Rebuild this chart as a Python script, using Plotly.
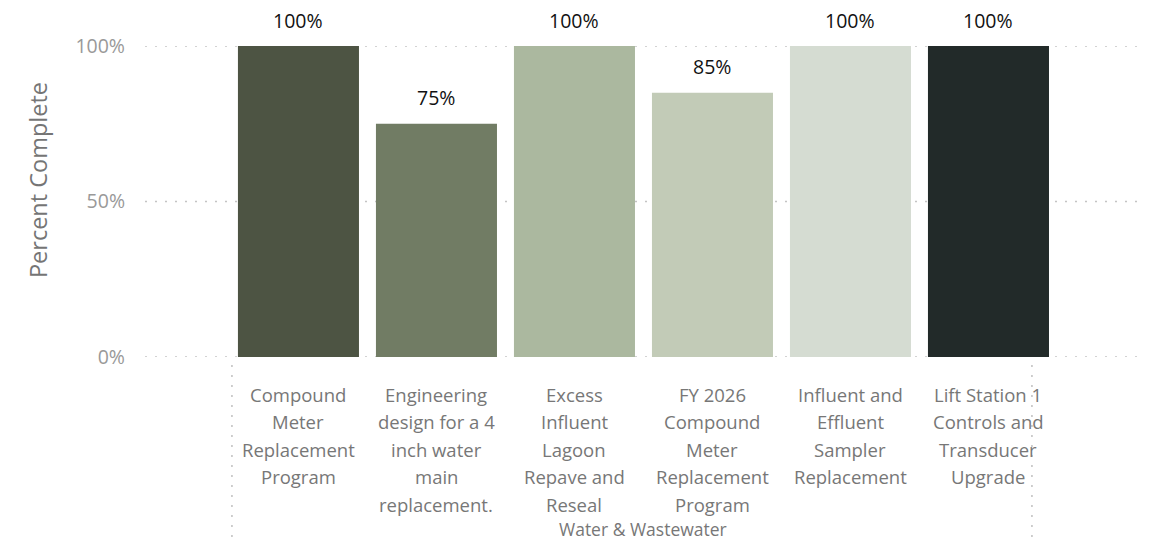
import plotly.graph_objects as go

categories = [
    "Compound<br>Meter<br>Replacement<br>Program",
    "Engineering<br>design for a 4<br>inch water<br>main<br>replacement.",
    "Excess<br>Influent<br>Lagoon<br>Repave and<br>Reseal",
    "FY 2026<br>Compound<br>Meter<br>Replacement<br>Program",
    "Influent and<br>Effluent<br>Sampler<br>Replacement",
    "Lift Station 1<br>Controls and<br>Transducer<br>Upgrade",
]
values = [1.00, 0.75, 1.00, 0.85, 1.00, 1.00]
bar_colors = ["#4D5443", "#717C64", "#ABB89F", "#C2CBB7", "#D5DCD2", "#222A29"]
group_label = "Water & Wastewater"
y_title = "Percent Complete"
y_ticks = [0, 0.5, 1.0]
y_ticktext = ["0%", "50%", "100%"]

FONT = "Open Sans"
xs = list(range(len(categories)))

PLOT_TOP, PLOT_H = 38, 311          # figure pixels
def paper_y(fig_px):
    return (PLOT_TOP + PLOT_H - fig_px) / PLOT_H

fig = go.Figure()
fig.add_trace(go.Bar(
    x=xs, y=values,
    marker=dict(color=bar_colors, line=dict(width=0)),
    width=0.877,
    cliponaxis=False,
    hoverinfo="skip",
))

# data labels above bars
for xv, v in zip(xs, values):
    fig.add_annotation(x=xv, y=v, xref="x", yref="y", text=f"{v:.0%}",
                       showarrow=False, yanchor="middle", yshift=26,
                       font=dict(family=FONT, size=19.5, color="#111111"))

# category labels, one line at a time
for xv, label in zip(xs, categories):
    for i, line in enumerate(label.split("<br>")):
        fig.add_annotation(x=xv, xref="x", y=paper_y(386 + 27.5 * i), yref="paper",
                           text=line, showarrow=False, yanchor="middle", borderpad=0,
                           font=dict(family=FONT, size=18.5, color="#777777"))

fig.update_layout(
    width=1144, height=533,
    margin=dict(l=137, r=12, t=PLOT_TOP, b=533 - PLOT_TOP - PLOT_H),
    plot_bgcolor="white", paper_bgcolor="white",
    showlegend=False,
    font=dict(family=FONT),
)
fig.update_xaxes(
    range=[-1.112, 6.098],
    tickmode="array", tickvals=xs, ticktext=[""] * len(xs),
    showgrid=False, zeroline=False, showline=False, ticks="",
)
fig.update_yaxes(
    range=[0, 1.0],
    tickmode="array", tickvals=y_ticks, ticktext=y_ticktext,
    tickfont=dict(family=FONT, size=19.5, color="#999999"),
    showgrid=False, zeroline=False, showline=False,
    ticklabelstandoff=19,
)

# y axis title
fig.add_annotation(x=-0.1075, xref="paper", y=paper_y(172), yref="paper",
                   text=y_title, textangle=-90, showarrow=False,
                   xanchor="center", yanchor="middle",
                   font=dict(family=FONT, size=23.5, color="#757575"))

# dotted gridlines at tick values (behind bars)
for yv in y_ticks:
    fig.add_shape(type="line", xref="paper", yref="y", x0=0, x1=1, y0=yv, y1=yv,
                  layer="below", line=dict(color="#C4C4C4", width=1.6, dash="2px,8px"))

# group separators and group label
for xv in (-0.482, 5.315):
    fig.add_shape(type="line", xref="x", yref="paper", x0=xv, x1=xv, y0=-0.026, y1=-0.6,
                  line=dict(color="#C4C4C4", width=1.6, dash="2px,8px"))
fig.add_annotation(x=(xs[0] + xs[-1]) / 2, xref="x", y=paper_y(521), yref="paper",
                   text=group_label, showarrow=False, yanchor="middle", borderpad=0,
                   font=dict(family=FONT, size=17.5, color="#777777"))

fig.write_html("out.html")
